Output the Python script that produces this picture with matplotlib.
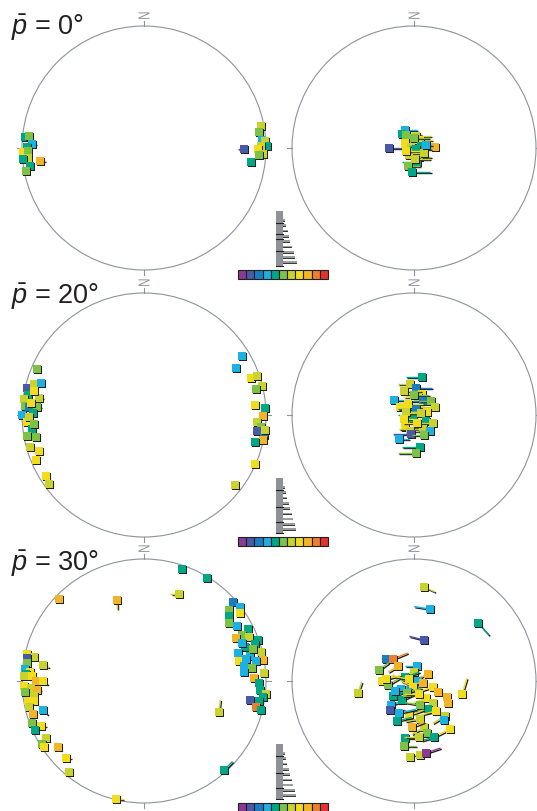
import matplotlib
matplotlib.use("Agg")
import matplotlib.pyplot as plt
from matplotlib import transforms
from matplotlib.patches import Circle, Rectangle, PathPatch
from matplotlib.textpath import TextPath
from matplotlib.font_manager import FontProperties

plt.rcParams['font.family'] = ['Liberation Sans', 'DejaVu Sans']
plt.rcParams['mathtext.fontset'] = 'custom'
plt.rcParams['mathtext.it'] = 'Liberation Sans:italic'
plt.rcParams['mathtext.rm'] = 'Liberation Sans'

W, H, DPI = 537, 812, 100

# discrete colour scale (11 classes)
COLOURS = ['#8a3a93', '#4b5aa8', '#1a7dc2', '#1bb1e3', '#00a785', '#7dc244',
           '#c9d22f', '#f2dd1c', '#f1b527', '#ec7f2d', '#e3322f']

MEAN_PLUNGE = [0, 20, 30]

# poles on the unit primitive circle: (east, north, colour class, tail east, tail north)
NET_0_FIXED = [
    (-0.975, 0.090, 4, 0, 0), (-0.943, 0.098, 5, 0, 0), (-0.918, 0.033, 3, 0.03, 0),
    (-0.959, 0.008, 4, 0, 0), (-0.992, -0.033, 7, 0, 0), (-0.951, -0.025, 5, 0.02, 0),
    (-0.951, -0.082, 6, 0, 0), (-0.992, -0.090, 4, 0, 0), (-0.852, -0.107, 8, 0.04, 0),
    (-0.934, -0.148, 4, 0, 0), (-0.967, -0.189, 5, 0, 0),
    (0.959, 0.180, 6, 0, 0), (0.943, 0.131, 5, 0, 0), (0.967, 0.066, 3, 0.02, 0),
    (0.992, 0.057, 6, 0, 0), (1.008, 0.016, 4, 0, 0), (0.959, 0.016, 6, 0, 0),
    (0.934, -0.008, 7, 0, 0), (0.975, -0.049, 6, 0, 0), (0.943, -0.057, 5, 0, 0),
    (0.820, -0.008, 1, -0.05, 0), (0.877, -0.115, 4, 0, 0),
]
NET_0_ROTATED = [
    (-0.205, 0.000, 1, 0.12, 0), (0.172, 0.008, 8, -0.06, 0),
    (-0.074, 0.148, 3, 0.10, 0), (-0.098, 0.115, 4, 0.15, 0), (-0.066, 0.107, 5, 0.12, 0),
    (0.016, 0.098, 6, 0.12, 0), (-0.041, 0.033, 5, 0.10, 0), (-0.074, 0.041, 7, 0.10, 0),
    (0.049, 0.066, 7, 0.10, 0), (0.000, 0.082, 5, 0.12, 0), (-0.025, 0.008, 6, 0.14, 0),
    (0.057, 0.016, 4, -0.10, 0), (0.016, -0.008, 4, 0.12, 0), (-0.041, -0.057, 6, 0.10, 0),
    (-0.066, -0.025, 7, 0.12, 0), (0.041, -0.074, 5, 0.10, 0),
    (0.082, -0.041, 6, -0.10, 0), (0.098, 0.025, 3, 0.05, 0), (0.025, -0.115, 4, -0.12, 0),
    (-0.049, -0.148, 5, 0.10, 0), (0.008, -0.090, 6, 0.12, 0), (-0.016, -0.197, 4, 0.15, 0),
]
NET_1_FIXED = [
    (-0.877, 0.377, 5, 0, 0), (-0.959, 0.221, 1, 0, 0), (-0.902, 0.254, 6, 0, 0),
    (-0.844, 0.262, 3, 0, 0), (-0.951, 0.164, 4, 0, 0), (-0.861, 0.139, 6, 0.03, 0),
    (-0.902, 0.197, 7, 0, 0), (-0.984, 0.131, 6, 0, 0), (-0.975, 0.074, 5, 0, 0),
    (-0.943, 0.066, 2, 0, 0), (-0.877, 0.066, 5, 0.03, 0), (-1.000, 0.000, 3, 0, 0),
    (-0.910, 0.016, 4, 0, 0), (-0.959, -0.057, 7, 0, 0), (-0.918, -0.115, 4, 0, 0),
    (-0.959, -0.172, 5, 0, 0), (-0.885, -0.180, 5, 0, 0), (-0.934, -0.262, 6, 0, 0),
    (-0.861, -0.295, 7, 0, 0), (-0.885, -0.369, 7, 0, 0), (-0.803, -0.500, 7, 0, 0),
    (-0.779, -0.566, 6, 0, 0), (-0.926, 0.098, 7, 0, 0), (-0.943, -0.016, 6, 0, 0),
    (-0.902, -0.074, 5, 0, 0),
    (0.803, 0.484, 3, 0, 0), (0.754, 0.385, 3, 0, 0), (0.877, 0.303, 7, 0, 0),
    (0.926, 0.320, 6, 0, 0), (0.967, 0.238, 6, 0, 0), (0.918, 0.213, 5, 0, 0),
    (0.910, 0.082, 7, 0, 0), (0.992, 0.057, 4, 0, 0), (0.975, -0.008, 8, 0, 0),
    (0.926, -0.057, 6, 0, 0), (0.959, -0.098, 5, 0, 0), (0.926, -0.131, 1, 0, 0),
    (0.984, -0.164, 2, 0, 0), (0.975, -0.205, 8, 0, 0), (0.910, -0.221, 4, 0, 0),
    (0.992, -0.123, 6, 0, 0), (0.910, -0.402, 7, 0, 0), (0.746, -0.574, 6, 0, 0),
]
NET_1_ROTATED = [
    (0.066, 0.311, 4, -0.13, 0), (-0.033, 0.254, 6, -0.10, 0), (0.016, 0.221, 2, 0.13, 0),
    (0.066, 0.172, 7, -0.15, 0), (0.033, 0.148, 7, -0.12, 0), (-0.164, 0.123, 3, 0.10, 0),
    (-0.082, 0.197, 6, 0.14, 0), (0.000, 0.164, 5, 0.12, 0), (-0.115, 0.066, 7, 0.14, 0),
    (0.074, 0.115, 2, -0.12, 0), (0.139, 0.115, 5, -0.10, 0), (0.172, 0.066, 6, -0.15, 0),
    (-0.049, 0.090, 7, 0.12, 0), (0.016, 0.049, 2, -0.15, 0), (-0.008, 0.000, 4, -0.12, 0),
    (0.107, 0.025, 7, -0.14, 0), (-0.066, 0.025, 6, 0.12, 0),
    (-0.082, -0.033, 7, 0.15, 0), (0.057, 0.016, 6, -0.10, 0), (0.098, -0.049, 4, -0.15, 0),
    (0.156, -0.066, 6, -0.12, 0), (-0.074, -0.098, 7, 0.12, 0), (0.074, -0.115, 6, -0.20, 0),
    (0.025, -0.066, 7, -0.12, 0), (-0.033, -0.131, 6, 0.14, 0),
    (0.131, -0.131, 3, -0.10, 0), (-0.025, -0.156, 1, -0.15, 0), (0.082, -0.164, 5, -0.10, 0),
    (-0.123, -0.197, 3, 0.08, 0), (0.049, -0.262, 4, -0.15, 0), (0.016, -0.311, 5, -0.15, 0),
]
NET_2_FIXED = [
    (0.311, 0.918, 4, 0, 0), (0.516, 0.844, 4, 0, 0), (-0.697, 0.672, 8, 0, 0),
    (-0.221, 0.664, 8, 0, -0.07), (0.287, 0.713, 6, -0.07, 0),
    (0.730, 0.648, 2, 0, 0), (0.787, 0.607, 3, 0, 0), (0.787, 0.557, 7, 0, 0),
    (0.697, 0.582, 5, 0, 0), (0.697, 0.533, 4, 0, 0), (0.697, 0.475, 5, 0, 0),
    (0.762, 0.451, 3, 0, 0), (0.852, 0.426, 4, 0, 0), (0.803, 0.377, 5, 0, 0),
    (0.861, 0.361, 6, 0, 0), (0.754, 0.352, 8, 0, 0), (0.934, 0.336, 4, 0, 0),
    (0.828, 0.279, 4, 0, 0), (0.910, 0.303, 4, 0, 0), (0.959, 0.238, 6, 0, 0),
    (0.770, 0.230, 3, 0, 0), (0.869, 0.205, 3, 0, 0), (0.779, 0.164, 7, 0, 0),
    (0.836, 0.180, 3, 0, 0), (0.803, 0.311, 3, 0, 0), (0.893, 0.262, 5, 0, 0),
    (0.975, 0.172, 8, 0, 0), (0.820, 0.123, 3, 0, 0), (0.918, 0.164, 3, 0, 0),
    (0.885, 0.107, 5, 0, 0), (0.820, 0.074, 3, 0, 0), (0.984, 0.066, 6, 0, 0),
    (0.902, 0.025, 8, 0, 0), (0.943, -0.016, 4, 0, 0), (0.951, -0.074, 4, 0, 0),
    (1.000, -0.107, 6, 0, 0), (0.975, -0.131, 4, 0, 0), (0.869, -0.156, 1, 0, 0),
    (0.943, -0.164, 4, 0, 0), (0.918, -0.213, 9, 0, 0), (0.959, -0.238, 4, 0, 0),
    (0.615, -0.254, 6, 0.01, 0.10), (0.656, -0.730, 4, 0.07, 0.07), (-0.230, -0.967, 7, 0.06, 0),
    (-0.959, 0.221, 7, 0, 0), (-0.902, 0.197, 6, 0, 0), (-0.959, 0.189, 1, 0, 0),
    (-0.959, 0.148, 5, 0, 0), (-0.828, 0.131, 6, 0.05, -0.02), (-0.975, 0.098, 3, 0, 0),
    (-0.934, 0.074, 7, 0, 0), (-0.967, 0.057, 4, 0, 0), (-0.984, 0.041, 6, 0, 0),
    (-0.918, 0.041, 7, 0, 0), (-0.885, 0.000, 8, 0, 0), (-0.828, 0.000, 7, 0.04, -0.03),
    (-0.984, -0.041, 7, 0, 0), (-0.926, -0.057, 6, 0, 0), (-0.877, -0.074, 8, 0.03, 0),
    (-0.975, -0.090, 5, 0, 0), (-0.902, -0.123, 6, 0, 0), (-0.951, -0.164, 7, 0, 0),
    (-0.902, -0.164, 7, 0, 0), (-0.943, -0.213, 6, 0, 0), (-0.828, -0.238, 3, 0.04, -0.04),
    (-0.910, -0.270, 8, 0, 0), (-0.918, -0.344, 5, 0, 0), (-0.844, -0.369, 7, 0.04, 0),
    (-0.893, -0.402, 4, 0, 0), (-0.803, -0.467, 6, 0.03, -0.03), (-0.836, -0.516, 5, 0, 0),
    (-0.820, -0.541, 7, 0, 0), (-0.705, -0.541, 8, 0.03, -0.03), (-0.639, -0.631, 7, 0.04, 0),
    (-0.615, -0.746, 6, 0, 0),
]
NET_2_ROTATED = [
    (0.082, 0.770, 6, 0.09, -0.04), (0.131, 0.590, 3, -0.13, 0.02), (0.525, 0.475, 4, 0.09, -0.10),
    (0.082, 0.336, 1, -0.12, 0.03), (-0.230, 0.180, 2, 0, 0), (-0.172, 0.180, 9, 0.12, 0.05),
    (-0.287, 0.090, 5, 0.08, 0.06), (-0.131, 0.123, 8, -0.08, -0.05), (0.025, 0.123, 3, -0.10, 0),
    (0.000, 0.074, 6, -0.10, -0.03), (0.115, 0.057, 8, -0.12, -0.05), (-0.262, 0.000, 7, 0.10, 0.05),
    (-0.459, -0.098, 6, 0.03, 0.09), (0.393, -0.107, 7, 0.04, 0.13), (-0.213, -0.033, 5, 0.10, 0.06),
    (-0.074, 0.033, 4, 0.12, 0.04), (0.033, 0.000, 3, -0.10, -0.05), (-0.107, -0.066, 3, 0.15, 0.02),
    (-0.230, 0.016, 7, 0.12, 0.03), (-0.041, 0.016, 7, -0.12, 0.02), (0.074, -0.016, 8, -0.12, 0),
    (-0.172, -0.123, 4, 0.15, 0.05), (-0.008, -0.049, 7, -0.10, 0.05), (0.156, -0.049, 7, -0.10, -0.03),
    (0.197, -0.090, 8, 0, 0), (0.270, -0.131, 8, 0, 0), (0.279, -0.180, 8, 0, 0),
    (-0.189, -0.197, 3, 0.12, 0.04), (-0.098, -0.156, 4, 0.13, 0.06), (0.098, -0.139, 7, -0.10, -0.04),
    (-0.156, -0.082, 3, 0.14, 0.02), (-0.057, -0.098, 5, 0.12, 0.04), (0.041, -0.107, 7, -0.12, 0),
    (-0.197, -0.238, 1, 0.12, 0), (0.156, -0.180, 6, -0.10, -0.05), (0.115, -0.230, 4, -0.15, -0.02),
    (0.049, -0.197, 5, -0.12, 0.02), (-0.041, -0.279, 7, 0.12, 0.04), (0.254, -0.287, 6, -0.10, -0.06),
    (-0.123, -0.262, 3, 0.14, 0.03), (0.180, -0.246, 7, -0.12, -0.03),
    (0.246, -0.320, 3, 0, 0), (0.049, -0.311, 6, -0.12, -0.02), (-0.139, -0.328, 4, 0.12, 0.03),
    (0.295, -0.393, 7, -0.12, -0.06), (0.082, -0.377, 6, -0.10, -0.06), (-0.016, -0.377, 8, 0.10, 0.04),
    (0.107, -0.426, 5, -0.12, -0.04), (-0.074, -0.467, 4, 0.10, 0), (0.164, -0.459, 4, -0.10, -0.03),
    (0.041, -0.459, 6, -0.12, 0), (-0.082, -0.533, 5, 0.10, 0), (0.049, -0.607, 6, -0.10, 0),
    (0.098, -0.590, 0, 0.12, 0.04), (-0.033, -0.623, 6, 0, 0),
]
NETS = [[NET_0_FIXED, NET_0_ROTATED], [NET_1_FIXED, NET_1_ROTATED], [NET_2_FIXED, NET_2_ROTATED]]

# tail-length histogram beside each colour scale
HIST_LENGTHS = [[1.7, 3.3, 4.7, 6.0, 7.3, 9.3, 10.7, 12.0, 14.0],
                [1.7, 2.7, 4.0, 5.7, 7.3, 9.0, 10.0, 11.7, 13.3],
                [1.7, 2.7, 4.0, 5.7, 7.3, 9.0, 10.0, 11.7, 13.3]]
HIST_TICKS = [[0.21, 0.41, 0.50, 0.71, 0.98],
              [0.21, 0.52, 0.79, 0.98],
              [0.21, 0.52, 0.79, 0.98]]

# page layout (pixels)
NET_CX = [144, 414]
NET_CY = [149, 416, 682]
R = 122
EXT = 1.12
INK = '#231f20'
RIM = '#8d929b'
SQ = 37

fig = plt.figure(figsize=(W / DPI, H / DPI), dpi=DPI)
glyph = TextPath((0, 0), 'N', size=1, prop=FontProperties(family='Liberation Sans'))
gb = glyph.get_extents()


def draw_net(ax, poles):
    ax.set_xlim(-EXT, EXT)
    ax.set_ylim(-EXT, EXT)
    ax.set_axis_off()
    ax.patch.set_visible(False)
    ax.add_patch(Circle((0, 0), 1, fill=False, ec=RIM, lw=0.8, zorder=1))
    for ux, uy in [(0, 1), (1, 0), (0, -1), (-1, 0)]:
        ax.plot([ux, ux * 1.045], [uy, uy * 1.045], color=RIM, lw=0.8, zorder=1)
    # north label
    sx, sy = 6.5 / gb.width, 11.0 / gb.height
    tr = (transforms.Affine2D().translate(-(gb.x0 + gb.width / 2), -(gb.y0 + gb.height / 2))
          .scale(sx, sy).rotate_deg(90)
          + transforms.ScaledTranslation(0, 1.085, ax.transData))
    ax.add_patch(PathPatch(glyph, transform=tr, fc=RIM, ec='none'))
    shadow = ax.transData + transforms.ScaledTranslation(1.2 / DPI, -1.2 / DPI, fig.dpi_scale_trans)
    for i, (x, y, c, tx, ty) in enumerate(poles):
        z = 2 + i * 0.01
        col = COLOURS[c]
        if tx or ty:
            ax.plot([x, x + tx], [y, y + ty], color=INK, lw=1.0, transform=shadow,
                    solid_capstyle='butt', zorder=z)
            ax.plot([x, x + tx], [y, y + ty], color=col, lw=1.0,
                    solid_capstyle='butt', zorder=z + 0.002)
        ax.scatter([x], [y], s=SQ, marker='s', color=INK, lw=0, transform=shadow, zorder=z + 0.004)
        ax.scatter([x], [y], s=SQ, marker='s', color=col, lw=0, zorder=z + 0.006)


for r, cy in enumerate(NET_CY):
    for c, cx in enumerate(NET_CX):
        ax = fig.add_axes([(cx - R * EXT) / W, (H - cy - R * EXT) / H,
                           2 * R * EXT / W, 2 * R * EXT / H])
        draw_net(ax, NETS[r][c])

# overlay in pixel coordinates for titles and keys
ov = fig.add_axes([0, 0, 1, 1])
ov.set_xlim(0, W)
ov.set_ylim(H, 0)
ov.set_axis_off()
ov.patch.set_visible(False)

TITLE_BASE = [35, 304, 571]
KEY_TOP = [212, 479, 745]
for r in range(3):
    ov.text(11, TITLE_BASE[r], r'$\bar{p}$ = %d°' % MEAN_PLUNGE[r], fontsize=19.5,
            color=INK, va='baseline', ha='left')
    top = KEY_TOP[r]
    bar_h = 56
    ov.add_patch(Rectangle((276, top), 7, bar_h, fc='#8e9297', ec='none'))
    for f in HIST_TICKS[r]:
        ov.plot([276, 283], [top + f * bar_h] * 2, color=INK, lw=0.8)
    for k, L in enumerate(HIST_LENGTHS[r]):
        yk = top + 9 + k * 5.3
        ov.add_patch(Rectangle((283, yk + 0.8), L, 0.9, fc='#3a3a3a', ec='none'))
        ov.add_patch(Rectangle((283, yk - 1.0), L, 1.8, fc='#9a9da2', ec='none'))
    cb_top = top + 59
    bw = 90 / len(COLOURS)
    for k, col in enumerate(COLOURS):
        ov.add_patch(Rectangle((238 + k * bw, cb_top), bw, 9, fc=col, ec=INK, lw=0.8))

fig.savefig('out.png', dpi=DPI)
